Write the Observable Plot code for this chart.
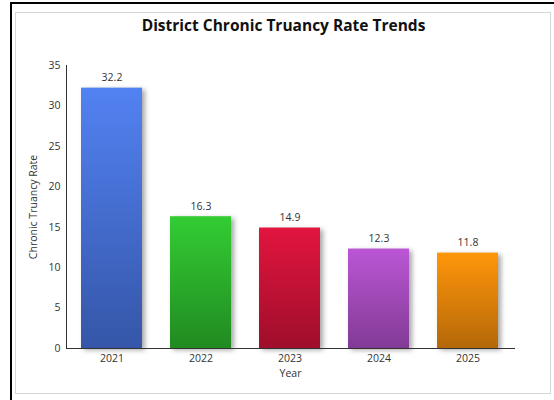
<!DOCTYPE html>
<html>
<head>
<meta charset="utf-8">
<script src="https://cdn.jsdelivr.net/npm/d3@7"></script>
<script src="https://cdn.jsdelivr.net/npm/@observablehq/plot@0.6"></script>
<style>
  html, body { margin: 0; padding: 0; background: #fff; width: 554px; height: 400px; overflow: hidden; }
  #outer { position: absolute; left: 10px; top: 2px; width: 560px; height: 420px; border-left: 2px solid #000; border-top: 2px solid #000; }
  #panel { position: absolute; left: 15px; top: 12px; width: 534px; height: 380px; border: 1.5px solid #d6d6d6; background: #fff; }
  #title { position: absolute; left: 15px; width: 537px; top: 14px; text-align: center; font-family: "Open Sans", sans-serif; font-weight: 700; font-size: 15.5px; color: #111; }
  #chart { position: absolute; left: 0; top: 0; }
</style>
</head>
<body>
<div id="outer"></div>
<div id="panel"></div>
<div id="title">District Chronic Truancy Rate Trends</div>
<div id="chart"></div>
<script>
const years = ["2021", "2022", "2023", "2024", "2025"];
const rates = [32.2, 16.3, 14.9, 12.3, 11.8];
const topColors = ["#5282f2", "#33cd33", "#e2153e", "#bb56d5", "#ff960a"];
const bottomColors = ["#3556a8", "#218a21", "#9f0e2b", "#823b95", "#b46808"];
const yTicks = [0, 5, 10, 15, 20, 25, 30, 35];

const data = years.map((year, i) => ({year, rate: rates[i], i}));
const font = "'Open Sans', sans-serif";

const chart = Plot.plot({
  width: 554,
  height: 400,
  marginLeft: 66,
  marginRight: 40,
  marginTop: 65,
  marginBottom: 52,
  style: {fontFamily: font, fontSize: "10.5px", color: "#333", background: "transparent", overflow: "visible"},
  x: {domain: years, paddingInner: 0.31, paddingOuter: 0.155, label: null},
  y: {domain: [0, 35], label: null},
  color: {type: "identity"},
  marks: [
    Plot.barY(data, {x: "year", y: "rate", fill: d => `url(#grad${d.i})`}),
    Plot.text(data, {x: "year", y: "rate", text: d => d.rate.toFixed(1), dy: -7, lineAnchor: "bottom", fill: "#333", fontSize: 10.5}),
    Plot.axisX({tickSize: 0, tickPadding: 6, label: null, fontSize: 10.5}),
    Plot.axisY(yTicks, {tickSize: 0, tickPadding: 6, label: null, fontSize: 10.5}),
    Plot.frame({anchor: "left", stroke: "#333"}),
    Plot.frame({anchor: "bottom", stroke: "#333"}),
    Plot.text(["Year"], {frameAnchor: "bottom", dy: 28, fill: "#333", fontSize: 10.5}),
    Plot.text(["Chronic Truancy Rate"], {frameAnchor: "left", textAnchor: "middle", dx: -33, rotate: -90, fill: "#333", fontSize: 10.5})
  ]
});

const svg = d3.select(chart);
const defs = svg.insert("defs", ":first-child");
years.forEach((y, i) => {
  const g = defs.append("linearGradient").attr("id", `grad${i}`).attr("x1", 0).attr("y1", 0).attr("x2", 0).attr("y2", 1);
  g.append("stop").attr("offset", "0%").attr("stop-color", topColors[i]);
  g.append("stop").attr("offset", "100%").attr("stop-color", bottomColors[i]);
});
svg.selectAll('g[aria-label="bar"]').style("filter", "drop-shadow(3px 2px 2.5px rgba(0,0,0,0.35))");

document.getElementById("chart").appendChild(chart);
</script>
</body>
</html>
